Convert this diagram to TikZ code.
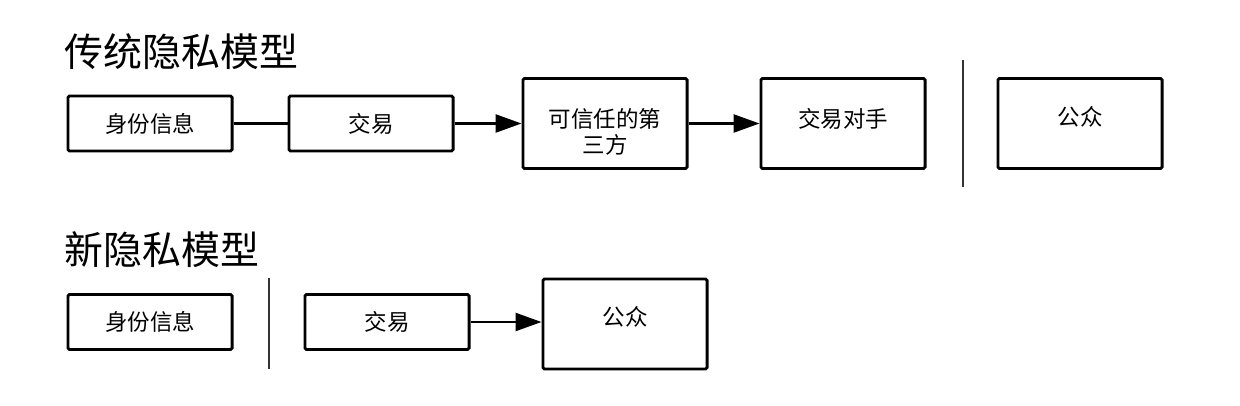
\documentclass[tikz,border=0pt]{standalone}
\usepackage{fontspec}
\newfontfamily\cjk{Noto Sans CJK SC}
\usetikzlibrary{arrows.meta}
\tikzset{
  box/.style={
    draw=black,
    line width=2.1pt,
    rounded corners=1pt,
    minimum width=4.1cm,
    minimum height=1.375cm,
    inner sep=0pt,
    align=center,
    font=\cjk\fontsize{16}{18.5}\selectfont
  },
  box-tall/.style={box, minimum height=2.25cm},
  text-up/.style={text height=12pt, text depth=#1},
  link/.style={line width=1.8pt, draw=black},
  link-arrow/.style={link, -{Triangle[length=0.65cm, width=0.45cm]}},
  divider/.style={line width=1.8pt, draw=black!80},
  heading/.style={anchor=west, inner sep=0pt, font=\cjk\fontsize{27.7}{30}\selectfont}
}

\begin{document}
\begin{tikzpicture}[x=0.025cm, y=-0.025cm]
  \useasboundingbox (0,0) rectangle (1240,406);

  % --- Traditional model ---
  \node[heading] (title-old) at (64,52) {传统隐私模型};

  \node[box] (id-old) at (150,123.5) {身份信息};
  \node[box] (tx-old) at (371,123.5) {交易};
  \node[box-tall] (ttp) at (605,123.5) {\rule{0pt}{26pt}可信任的第\\三方};
  \node[box-tall, text-up=5.6pt] (party) at (843,123.5) {交易对手};
  \node[box-tall, text-up=9.2pt] (pub-old) at (1080,123.5) {公众};

  \draw[link] (id-old) -- (tx-old);
  \draw[link-arrow] (tx-old) -- (ttp);
  \draw[link-arrow] (ttp) -- (party);

  % separator before the public
  \coordinate (sep-old-top) at (963,60);
  \coordinate (sep-old-bot) at (963,187);
  \draw[divider] (sep-old-top) -- (sep-old-bot);

  % --- New model ---
  \node[heading] (title-new) at (64,250) {新隐私模型};

  \node[box] (id-new) at (150,322) {身份信息};
  \node[box] (tx-new) at (387,322) {交易};
  \node[box-tall, text-up=9.2pt] (pub-new) at (625,324) {公众};

  \draw[link-arrow] (tx-new) -- (tx-new.east -| pub-new.west);

  % separator between identity and transaction
  \coordinate (sep-new-top) at (269,278);
  \coordinate (sep-new-bot) at (269,369);
  \draw[divider] (sep-new-top) -- (sep-new-bot);
\end{tikzpicture}
\end{document}
